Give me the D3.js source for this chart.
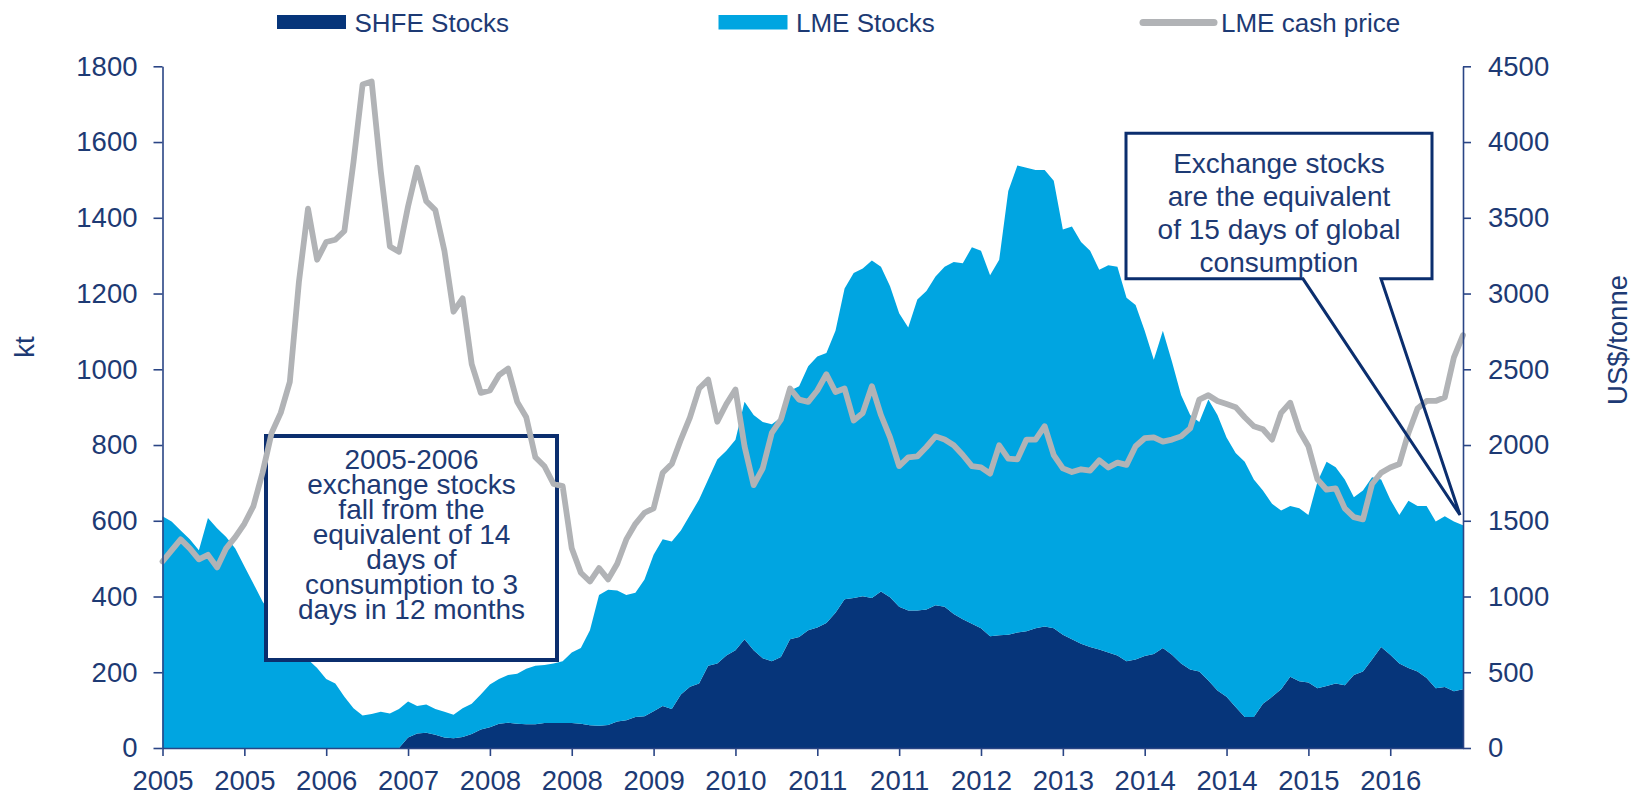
<!DOCTYPE html>
<html>
<head>
<meta charset="utf-8">
<script src="https://cdn.jsdelivr.net/npm/d3@7/dist/d3.min.js"></script>
<style>
html,body{margin:0;padding:0;background:#fff;}
svg{display:block;}
text{font-family:"Liberation Sans",Arial,sans-serif;}
</style>
</head>
<body>
<svg id="chart" width="1639" height="795"></svg>
<script>
// ---- DATA (monthly, Jan 2005 - Dec 2016) ----
const startMonth = "2005-01";
const monthCount = 144;
const tickLabels = ["2005","2005","2006","2007","2008","2008","2009","2010","2011","2011","2012","2013","2014","2014","2015","2016"];
const seriesNames = ["SHFE Stocks","LME Stocks","LME cash price"];

// SHFE stocks, kt
const shfeStocks = [
0,0,0,0,0,0,0,0,0,0,0,0,0,0,0,0,0,0,0,0,0,0,0,0,0,0,
0,28,38,40,35,28,26,29,37,49,
55,64,67,64,63,63,66,66,66,66,64,60,
59,61,70,73,82,84,97,111,103,141,162,170,
217,223,244,258,287,258,237,229,240,287,293,311,
318,330,357,393,396,401,396,413,398,373,363,363,
366,377,373,354,340,328,316,295,298,299,305,308,
316,321,316,299,287,275,267,260,252,244,229,234,
243,248,264,246,223,207,202,178,152,135,108,82,
82,117,135,155,188,176,173,158,164,170,166,193,
202,234,267,246,223,211,202,185,158,161,150,155];

// LME stocks, kt
const lmeStocks = [
612,598,574,551,522,607,580,557,527,480,434,387,
352,311,275,252,234,211,182,170,135,105,86,90,
96,91,103,95,73,75,68,68,62,76,80,92,
113,118,126,132,146,154,153,157,163,186,200,251,
345,357,346,331,328,361,413,440,442,433,453,486,
492,539,541,556,627,621,624,626,633,656,662,697,
716,713,745,820,858,865,891,858,821,775,747,821,
841,868,898,929,940,994,997,953,991,1172,1233,1224,
1210,1205,1182,1070,1090,1061,1046,1003,1023,1027,960,936,
859,777,838,774,709,672,659,742,727,685,671,674,
627,563,510,472,451,457,442,545,592,571,543,469,
478,481,442,410,392,442,437,454,440,451,448,433];

// LME cash price, US$/tonne
const lmeCashPrice = [
1231,1304,1377,1318,1245,1275,1192,1318,1392,1480,1597,1817,
2080,2212,2417,3077,3560,3223,3340,3355,3413,3868,4380,4400,
3809,3311,3276,3575,3830,3610,3551,3282,2880,2968,2534,2344,
2360,2461,2505,2285,2183,1919,1860,1743,1729,1318,1157,1099,
1187,1113,1216,1377,1480,1553,1582,1817,1875,2036,2183,2373,
2432,2154,2271,2367,1992,1735,1846,2080,2168,2373,2300,2285,
2360,2467,2350,2373,2162,2212,2388,2198,2051,1861,1919,1925,
1987,2057,2036,1998,1934,1861,1852,1811,1998,1910,1905,2036,
2036,2124,1934,1846,1822,1840,1831,1899,1852,1884,1869,1992,
2045,2051,2022,2036,2057,2110,2300,2329,2291,2271,2250,2183,
2124,2104,2036,2212,2279,2095,1992,1773,1705,1714,1582,1524,
1509,1743,1817,1852,1875,2080,2241,2291,2291,2315,2578,2725];

const leftTicks = [0,200,400,600,800,1000,1200,1400,1600,1800];
const rightTicks = [0,500,1000,1500,2000,2500,3000,3500,4000,4500];
const note1Lines = ["2005-2006","exchange stocks","fall from the","equivalent of 14","days of","consumption to 3","days in 12 months"];
const note2Lines = ["Exchange stocks","are the equivalent","of 15 days of global","consumption"];

// ---- STYLE ----
const NAVY_TXT = "#1d3a74";
const AXIS = "#2a4585";
const C_SHFE = "#06357a";
const C_LME = "#00a5e1";
const C_PRICE = "#b1b3b6";
const FONT = '"Liberation Sans", Arial, sans-serif';

const svg = d3.select("#chart");
const months = d3.timeMonth.range(d3.timeParse("%Y-%m")(startMonth), d3.timeMonth.offset(d3.timeParse("%Y-%m")(startMonth), monthCount));
const rows = months.map((m,i)=>({i, shfe: shfeStocks[i], lme: lmeStocks[i], price: lmeCashPrice[i]}));

const x = d3.scaleLinear().domain([0, monthCount-1]).range([162.5, 1463]);
const yL = d3.scaleLinear().domain([0,1800]).range([748, 66.3]);
const yR = d3.scaleLinear().domain([0,4500]).range([748, 66.3]);

const stack = d3.stack().keys(["shfe","lme"]);
const layers = stack(rows);
const area = d3.area().x(d=>x(d.data.i)).y0(d=>yL(d[0])).y1(d=>yL(d[1]));

svg.append("g").selectAll("path").data(layers).join("path")
  .attr("d", area)
  .attr("fill", (d,k)=> k===0 ? C_SHFE : C_LME);

// annotation 1 box (below the price line)
svg.append("rect").attr("x",266).attr("y",436).attr("width",291).attr("height",224)
  .attr("fill","#fff").attr("stroke","#0b2e6e").attr("stroke-width",4);

// price line
svg.append("path").datum(rows)
  .attr("d", d3.line().x(d=>x(d.i)).y(d=>yR(d.price)))
  .attr("fill","none").attr("stroke",C_PRICE).attr("stroke-width",5.8)
  .attr("stroke-linejoin","round").attr("stroke-linecap","round");

// axes
function styleAxis(g){
  g.selectAll(".domain").attr("stroke",AXIS).attr("stroke-width",1.6);
  g.selectAll(".tick line").attr("stroke",AXIS).attr("stroke-width",1.6);
  g.selectAll(".tick text").attr("fill",NAVY_TXT).style("font-family",FONT).style("font-size","27.5px");
  g.attr("font-family",null).attr("font-size",null);
}
svg.append("g").attr("transform","translate(162.5,0)")
  .call(d3.axisLeft(yL).tickValues(leftTicks).tickSizeInner(9).tickSizeOuter(0).tickPadding(16).tickFormat(d3.format("d")))
  .call(styleAxis);
svg.append("g").attr("transform","translate(1463,0)")
  .call(d3.axisRight(yR).tickValues(rightTicks).tickSizeInner(8).tickSizeOuter(0).tickPadding(17).tickFormat(d3.format("d")))
  .call(styleAxis);
svg.append("g").attr("transform","translate(0,748)")
  .call(d3.axisBottom(x).tickValues(d3.range(0, monthCount, 9)).tickSizeInner(8).tickSizeOuter(0).tickPadding(14)
        .tickFormat((d,k)=>tickLabels[k]))
  .call(styleAxis);

// axis titles
svg.append("text").attr("transform","translate(24,347) rotate(-90)")
  .attr("text-anchor","middle").attr("dominant-baseline","central")
  .attr("fill",NAVY_TXT).style("font-size","27.5px").text("kt");
svg.append("text").attr("transform","translate(1617,340) rotate(-90)")
  .attr("text-anchor","middle").attr("dominant-baseline","central")
  .attr("fill",NAVY_TXT).style("font-size","27.5px").text("US$/tonne");

// legend
const lg = svg.append("g");
lg.append("rect").attr("x",277).attr("y",15).attr("width",69).attr("height",14).attr("fill",C_SHFE);
lg.append("text").attr("x",354.5).attr("y",22.5).attr("dominant-baseline","central").attr("fill",NAVY_TXT).style("font-size","26px").text(seriesNames[0]);
lg.append("rect").attr("x",718.5).attr("y",15).attr("width",69).attr("height",14.5).attr("fill",C_LME);
lg.append("text").attr("x",796).attr("y",22.5).attr("dominant-baseline","central").attr("fill",NAVY_TXT).style("font-size","26px").text(seriesNames[1]);
lg.append("line").attr("x1",1143).attr("x2",1214).attr("y1",22.5).attr("y2",22.5)
  .attr("stroke",C_PRICE).attr("stroke-width",7).attr("stroke-linecap","round");
lg.append("text").attr("x",1221).attr("y",22.5).attr("dominant-baseline","central").attr("fill",NAVY_TXT).style("font-size","26px").text(seriesNames[2]);

// annotation 1 text
svg.append("g").selectAll("text").data(note1Lines).join("text")
  .attr("x",411.5).attr("y",(d,k)=>459.5+k*25.05).attr("text-anchor","middle").attr("dominant-baseline","central")
  .attr("fill",NAVY_TXT).style("font-size","28px").text(d=>d);

// annotation 2 (callout)
const bx0=1126, bx1=1432, by0=133.3, by1=278.8;
svg.append("rect").attr("x",bx0).attr("y",by0).attr("width",bx1-bx0).attr("height",by1-by0).attr("fill","#fff");
svg.append("path")
  .attr("d",`M${bx0},${by0}H${bx1}V${by1}H1381L1460,515L1303,${by1}H${bx0}Z`)
  .attr("fill","none").attr("stroke","#0b2e6e").attr("stroke-width",3).attr("stroke-linejoin","miter");
svg.append("g").selectAll("text").data(note2Lines).join("text")
  .attr("x",1279).attr("y",(d,k)=>163+k*33.2).attr("text-anchor","middle").attr("dominant-baseline","central")
  .attr("fill",NAVY_TXT).style("font-size","28px").text(d=>d);
</script>
</body>
</html>
